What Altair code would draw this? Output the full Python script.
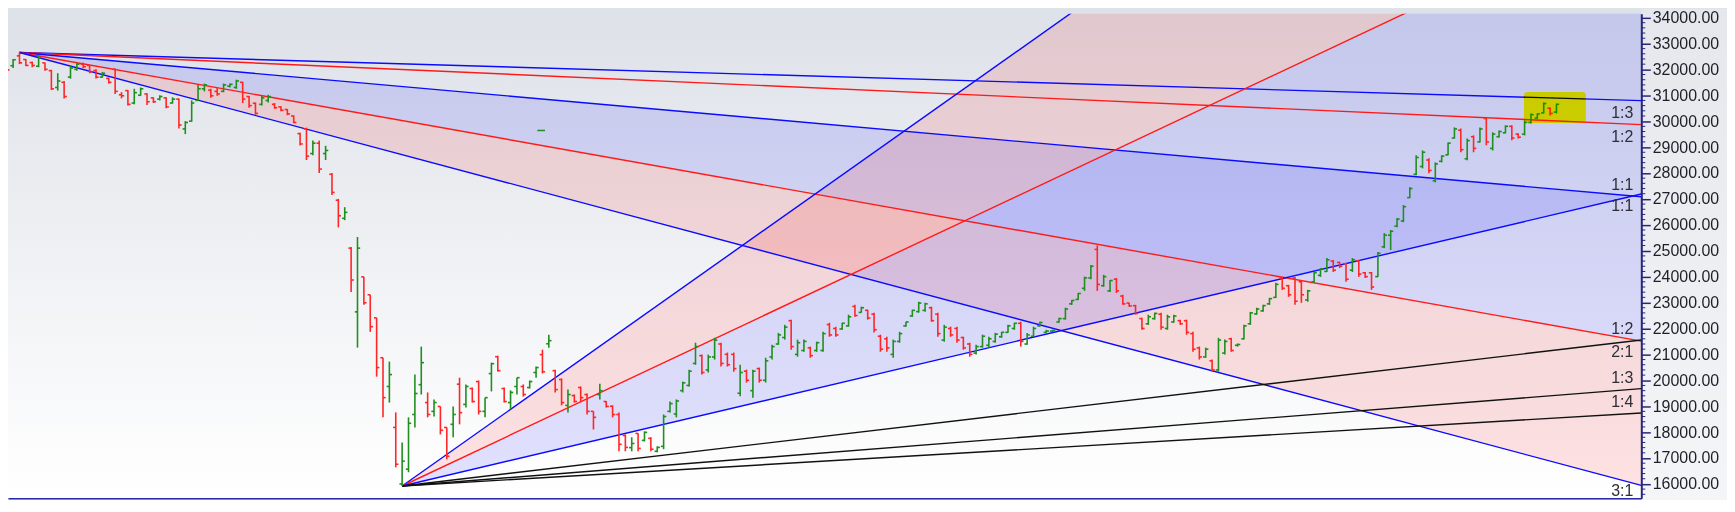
import altair as alt
import pandas as pd

# ---------------- OHLC data (daily bars) ----------------
opens = [
    32270, 32140, 32520, 32380, 32260, 32120, 32250, 31950, 31300, 31500,
    31700, 32000, 32200, 32150, 31950, 31700, 31650, 32000, 31020, 31180,
    30700, 31000, 31050, 30900, 30850, 30900, 30700, 30850, 29700, 30000,
    30800, 31250, 31200, 31150, 31150, 31350, 31300, 31500, 30950, 30690,
    30650, 30800, 30650, 30550, 30450, 30200, 29520, 29700, 28750, 29150,
    28750, 27950, 26950, 26250, 25100, 22640, 23990, 23300, 22410, 20870,
    19760, 18180, 16000, 16570, 18680, 19830, 19140, 18800, 18990, 18180,
    18300, 19850, 19070, 19680, 19950, 18800, 20260, 20910, 19680, 19140,
    19760, 19760, 19720, 20300, 20990, 21410, 20370, 20030, 19030, 19410,
    19720, 19450, 18800, 19450, 19180, 19000, 18680, 17870, 17400, 17950,
    17680, 17760, 17260, 17450, 18800, 18700, 19600, 19800, 20650, 20950,
    20400, 20900, 21400, 21000, 21000, 19500, 20350, 19600, 20450, 20000,
    20900, 21400, 21650, 22300, 21000, 21150, 21250, 21150, 21150, 22150,
    22000, 21980, 22100, 22850, 22620, 22700, 22550, 21700, 21600, 21000,
    21500, 22100, 22480, 22650, 22700, 22800, 22550, 21550, 22000, 22000,
    21650, 21400, 21050, 21300, 21350, 21500, 21680, 21850, 22000, 22200,
    21400, 21700, 22100, 21850, 21900, 22250, 22380, 22950, 23120, 23550,
    23950, 25050, 23650, 23450, 23900, 23250, 22980, 22880, 22380, 22180,
    22380, 22550, 22000, 22250, 22300, 22300, 21800, 21250, 20900, 20750,
    20400, 21050, 21600, 21350, 21600, 22180, 22560, 22680, 22950, 23200,
    23950, 23650, 23950, 23800, 23100, 23800, 24050, 24200, 24600, 24550,
    24500, 24250, 24600, 24150, 24150, 24000, 25150, 25600, 25950, 26150,
    27050, 27950, 28250, 28500, 27700, 28450, 28700, 29350, 29650, 28550,
    29400, 29200, 30100, 28950, 29400, 29550, 29800, 29500, 29500, 29950,
    30120, 30320, 30500, 30350,
]
highs = [
    32300, 32400, 32650, 32400, 32300, 32520, 32260, 31980, 31850, 31550,
    32140, 32250, 32260, 32150, 32000, 31900, 31680, 32030, 31120, 31200,
    31250, 31300, 31080, 30920, 31000, 30920, 30920, 30870, 30000, 30800,
    31400, 31450, 31250, 31300, 31450, 31450, 31600, 31520, 30970, 30720,
    30990, 31020, 30700, 30580, 30470, 30220, 29550, 29750, 29250, 29250,
    29050, 28000, 27000, 26680, 25140, 25530, 24000, 23300, 22410, 20870,
    20720, 18760, 17600, 18570, 20220, 21300, 19530, 19260, 18990, 18180,
    18990, 20100, 19840, 19720, 19990, 19330, 20680, 20950, 19720, 19610,
    20100, 19840, 19990, 20530, 21180, 21760, 20410, 20070, 19640, 19450,
    19760, 19490, 18800, 19870, 19200, 19030, 18760, 17910, 17800, 17960,
    18030, 17800, 17450, 18680, 19180, 19260, 19950, 20410, 21450, 20990,
    20990, 21640, 21450, 21070, 21070, 20600, 20410, 20410, 20490, 20870,
    21370, 21830, 22140, 22340, 21570, 21570, 21300, 21490, 21870, 22220,
    22070, 22220, 22530, 22910, 22840, 22720, 22610, 21760, 21680, 21570,
    21870, 22260, 22720, 23030, 22990, 22840, 22610, 22140, 22070, 22070,
    21680, 21450, 21370, 21760, 21680, 21830, 21870, 22140, 22220, 22260,
    21820, 22070, 22260, 21950, 21950, 22410, 22800, 23100, 23370, 24000,
    24450, 25200, 24070, 23870, 23950, 23300, 22990, 22910, 22410, 22530,
    22610, 22610, 22530, 22530, 22340, 22340, 21870, 21300, 21260, 20800,
    21640, 21570, 21640, 21420, 22140, 22640, 22800, 22910, 23180, 23760,
    23990, 23680, 23990, 23870, 23490, 24180, 24330, 24720, 24640, 24570,
    24530, 24720, 24640, 24180, 24180, 24950, 25680, 25800, 26260, 26760,
    27450, 28680, 28870, 28570, 28410, 28680, 29180, 29760, 29720, 29330,
    29450, 29760, 30140, 29570, 29640, 29840, 29840, 29530, 30030, 30300,
    30300, 30720, 30530, 30680,
]
lows = [
    31950, 32050, 32200, 32130, 32080, 32080, 31950, 31200, 31180, 30870,
    31640, 31950, 32050, 31850, 31650, 31680, 31450, 31050, 30880, 30600,
    30650, 30980, 30620, 30700, 30800, 30500, 30680, 29720, 29500, 29980,
    30780, 31150, 30900, 30980, 31120, 31300, 31250, 30700, 30520, 30250,
    30600, 30720, 30480, 30380, 30230, 29920, 29060, 28500, 28680, 28000,
    28500, 27150, 25900, 26180, 23410, 21260, 22910, 21870, 20140, 18570,
    19140, 16640, 15920, 16450, 18180, 19450, 18570, 18600, 17910, 16950,
    17800, 18300, 18950, 19140, 18680, 18570, 19570, 20340, 19140, 18870,
    19450, 19370, 19680, 20100, 20260, 21260, 19530, 19030, 18760, 19140,
    19180, 18680, 18100, 19260, 18950, 18570, 17260, 17260, 17260, 17260,
    17640, 17260, 17220, 17340, 18760, 18570, 19530, 19760, 20600, 20220,
    20300, 20800, 20530, 20530, 20330, 19380, 19910, 19330, 19910, 19910,
    20800, 21370, 21570, 21180, 20910, 21100, 20870, 21100, 21100, 21680,
    21680, 21950, 22070, 22450, 22610, 22340, 21840, 21100, 21100, 20870,
    21450, 22070, 22450, 22610, 22640, 22260, 21680, 21490, 21680, 21450,
    21180, 20910, 20990, 21260, 21260, 21450, 21640, 21830, 21950, 21300,
    21370, 21680, 22070, 21830, 21870, 22220, 22340, 22910, 23100, 23450,
    23900, 23450, 23610, 23410, 23370, 22910, 22840, 22530, 21950, 22140,
    22340, 21950, 21950, 22220, 22140, 21760, 21100, 20800, 20870, 20330,
    20330, 20990, 21100, 21300, 21570, 22140, 22530, 22640, 22910, 23180,
    23490, 23220, 22910, 22990, 23030, 23760, 23990, 24180, 24180, 24330,
    23800, 24180, 23990, 23950, 23490, 23990, 25100, 25030, 25910, 26100,
    27030, 27910, 28180, 27990, 27640, 28410, 28680, 29330, 28800, 28490,
    28800, 29180, 29070, 28870, 29370, 29530, 29260, 29330, 29450, 29910,
    30100, 30300, 30220, 30300,
]
closes = [
    31980, 32370, 32250, 32150, 32150, 32450, 32000, 31250, 31550, 30950,
    32050, 32200, 32100, 31900, 31700, 31850, 31500, 31150, 30980, 30650,
    31100, 31250, 30750, 30750, 30950, 30550, 30850, 29850, 29950, 30700,
    31250, 31400, 30980, 31050, 31400, 31420, 31550, 30850, 30600, 30300,
    30900, 30950, 30520, 30420, 30280, 29950, 29120, 28650, 29150, 28150,
    28870, 27250, 26350, 26480, 23870, 25100, 22990, 22070, 20490, 19330,
    20220, 16760, 16880, 18340, 19490, 20680, 18680, 19140, 18070, 17070,
    18680, 18750, 19760, 19180, 18800, 19330, 20640, 20370, 19180, 19530,
    20100, 19450, 19950, 20490, 20330, 21530, 19640, 19140, 19450, 19180,
    19330, 18800, 18570, 19600, 18990, 18680, 17530, 17410, 17560, 17370,
    17990, 17340, 17410, 18600, 19100, 19200, 19900, 20350, 21300, 20300,
    20900, 21550, 20650, 20600, 20450, 20300, 20000, 20350, 20000, 20750,
    21300, 21750, 22050, 21300, 21450, 21500, 20950, 21450, 21800, 21750,
    21750, 22200, 22450, 22500, 22800, 22400, 21950, 21200, 21250, 21500,
    21800, 22250, 22700, 22980, 22950, 22300, 21800, 22050, 21750, 21550,
    21250, 21000, 21300, 21700, 21600, 21780, 21850, 22100, 22200, 21500,
    21750, 22000, 22230, 21900, 21920, 22380, 22750, 23080, 23350, 23950,
    24400, 23700, 24000, 23850, 23450, 22950, 22870, 22580, 22000, 22450,
    22580, 22050, 22450, 22480, 22180, 21850, 21200, 20900, 21200, 20400,
    21550, 21500, 21150, 21380, 22100, 22600, 22750, 22880, 23150, 23700,
    23550, 23300, 23050, 23300, 23450, 24150, 24300, 24650, 24250, 24400,
    23900, 24650, 24100, 24000, 23600, 24900, 25600, 25750, 26220, 26700,
    27400, 28600, 28800, 28100, 28350, 28650, 29150, 29700, 28900, 29250,
    28950, 29700, 29200, 29500, 29600, 29800, 29350, 29380, 29950, 30250,
    30280, 30680, 30300, 30650,
]

# ---------------- Gann fans ----------------
top_origin = [2, 32650]          # bar index, price
top_unit = -21.9                 # price per bar of the 1:1 line
top_ratios = [1 / 3, 1 / 2, 1, 2, 3]
top_colors = ["#0a0aff", "#ff1a1a", "#0a0aff", "#ff1a1a", "#0a0aff"]
top_labels = ["1:3", "1:2", "1:1", "1:2", "3:1"]
top_label_dy = [12, 12, -12, -12, 6]
top_fills = [(2, 3, "#0000ff"), (3, 4, "#ff0000")]

bot_origin = [62, 15920]
bot_unit = 58.0
bot_ratios = [3, 2, 1, 1 / 2, 1 / 3, 1 / 4]
bot_colors = ["#0a0aff", "#ff1a1a", "#0a0aff", "#111111", "#111111", "#111111"]
bot_labels = ["", "", "1:1", "2:1", "1:3", "1:4"]
bot_label_dy = [0, 0, 12, 12, -11, -11]
bot_fills = [(0, 1, "#ff0000"), (1, 2, "#0000ff")]

# highlight (yellow marker) : bar index range and price range
highlight = [237.9, 247.6, 31130, 29930]
# small stray green dash on the chart
stray = [83.2, 84.4, 29640]

# axis ticks
major_ticks = list(range(16000, 34001, 1000))
minor_ticks = [v for v in range(15600, 34101, 200) if v % 1000 != 0]

# ---------------- layout ----------------
W, H = 1639, 486
TOP = 5
XDOM = [0.2, 256.3]
YDOM = [15451, 34142]
X_END = XDOM[1]

xs = alt.Scale(domain=XDOM, nice=False, zero=False)
ys = alt.Scale(domain=YDOM, nice=False, zero=False)
xaxis = alt.Axis(orient="bottom", labels=False, ticks=False, grid=False, title=None,
                 domainColor="#2a2aa8", domainWidth=1.5, zindex=1)
yaxis = alt.Axis(orient="right", values=major_ticks, format=".2f", tickSize=9,
                 tickColor="#26267a", tickWidth=1.5, domainColor="#26267a", domainWidth=2,
                 labelFont="Liberation Sans", labelFontSize=16, labelColor="#1e1e28",
                 labelPadding=2, grid=False, title=None, labelOverlap=False, zindex=1)


def X(f):
    return alt.X(f, type="quantitative", scale=xs, axis=xaxis)


def Y(f):
    return alt.Y(f, type="quantitative", scale=ys, axis=yaxis)


# ---------------- dataframes ----------------
n = len(closes)
bars = pd.DataFrame({"i": list(range(n)), "o": opens, "h": highs, "l": lows, "c": closes})
bars["dir"] = ["up" if c >= o else "down" for o, c in zip(opens, closes)]
bars["io"] = bars["i"] - 0.42
bars["ic"] = bars["i"] + 0.42
bar_color = alt.Color("dir:N", scale=alt.Scale(domain=["up", "down"], range=["#1f8f1f", "#ff2626"]),
                      legend=None)


def fan_val(origin, unit, ratio, x):
    return origin[1] + unit * ratio * (x - origin[0])


line_rows, fill_rows, lab_rows = [], [], []
for name, origin, unit, ratios, colors, labels, dys, fills in [
    ("t", top_origin, top_unit, top_ratios, top_colors, top_labels, top_label_dy, top_fills),
    ("b", bot_origin, bot_unit, bot_ratios, bot_colors, bot_labels, bot_label_dy, bot_fills),
]:
    for k, r in enumerate(ratios):
        lid = f"{name}{k}"
        line_rows.append({"id": lid, "x": origin[0], "p": origin[1], "col": colors[k]})
        pend = fan_val(origin, unit, r, X_END)
        line_rows.append({"id": lid, "x": X_END, "p": pend, "col": colors[k]})
        if labels[k]:
            lab_rows.append({"t": labels[k], "p": pend, "dy": dys[k]})
    for a, b, col in fills:
        rid = f"{name}f{a}{b}"
        fill_rows.append({"id": rid, "x": origin[0], "p": origin[1], "p2": origin[1], "col": col})
        fill_rows.append({"id": rid, "x": X_END, "p": fan_val(origin, unit, ratios[a], X_END),
                          "p2": fan_val(origin, unit, ratios[b], X_END), "col": col})

lines_df = pd.DataFrame(line_rows)
fills_df = pd.DataFrame(fill_rows)
labs_df = pd.DataFrame(lab_rows)

one = pd.DataFrame({"a": [0]})

# ---------------- layers ----------------
bg = alt.Chart(one).mark_rect(
    color=alt.LinearGradient(gradient="linear", x1=0, x2=0, y1=0, y2=1, stops=[
        alt.GradientStop(color="#dde1e8", offset=0),
        alt.GradientStop(color="#f1f2f5", offset=0.55),
        alt.GradientStop(color="#ffffff", offset=1)])
).encode(x=alt.value(0), x2=alt.value(W), y=alt.value(-TOP), y2=alt.value(H))

axis_bg = alt.Chart(one).mark_rect(
    color=alt.LinearGradient(gradient="linear", x1=0, x2=0, y1=0, y2=1, stops=[
        alt.GradientStop(color="#e5e7ec", offset=0),
        alt.GradientStop(color="#f4f5f7", offset=1)])
).encode(x=alt.value(W), x2=alt.value(W + 90), y=alt.value(-TOP), y2=alt.value(H + 4))

fill_layer = alt.Chart(fills_df).mark_area(clip=True, opacity=0.115).encode(
    x=X("x"), y=Y("p"), y2=alt.Y2("p2"),
    color=alt.Color("col:N", scale=None), detail="id:N")

line_layer = alt.Chart(lines_df).mark_line(clip=True, strokeWidth=1.4).encode(
    x=X("x"), y=Y("p"), color=alt.Color("col:N", scale=None), detail="id:N")

hl_rule = alt.Chart(bars).mark_rule(strokeWidth=1.6).encode(
    x=X("i"), y=Y("l"), y2=alt.Y2("h"), color=bar_color)
open_rule = alt.Chart(bars).mark_rule(strokeWidth=1.6).encode(
    x=X("io"), x2=alt.X2("i"), y=Y("o"), color=bar_color)
close_rule = alt.Chart(bars).mark_rule(strokeWidth=1.6).encode(
    x=X("i"), x2=alt.X2("ic"), y=Y("c"), color=bar_color)

stray_df = pd.DataFrame({"x1": [stray[0]], "x2": [stray[1]], "p": [stray[2]]})
stray_layer = alt.Chart(stray_df).mark_rule(strokeWidth=1.5, color="#1f8f1f").encode(
    x=X("x1"), x2=alt.X2("x2"), y=Y("p"))

hl_df = pd.DataFrame({"x1": [highlight[0]], "x2": [highlight[1]],
                      "p1": [highlight[2]], "p2": [highlight[3]]})
hl_layer = alt.Chart(hl_df).mark_rect(color="#ffff00", blend="multiply", cornerRadius=3).encode(
    x=X("x1"), x2=alt.X2("x2"), y=Y("p1"), y2=alt.Y2("p2"))

label_layers = []
for dy in sorted(set(labs_df["dy"])):
    label_layers.append(
        alt.Chart(labs_df[labs_df["dy"] == dy]).mark_text(
            align="right", baseline="middle", dy=int(dy), font="Liberation Sans",
            fontSize=16, color="#2e2e36"
        ).encode(x=alt.value(W - 8), y=Y("p"), text="t:N")
    )

minor_df = pd.DataFrame({"p": minor_ticks})
minor_layer = alt.Chart(minor_df).mark_rule(color="#26267a", strokeWidth=1).encode(
    y=Y("p"), x=alt.value(W), x2=alt.value(W + 4))

chart = alt.layer(
    bg, axis_bg, fill_layer, line_layer, hl_rule, open_rule, close_rule, stray_layer,
    hl_layer, *label_layers, minor_layer
).properties(
    width=W, height=H,
    autosize=alt.AutoSizeParams(type="none"),
    padding={"left": 0, "top": TOP, "right": 86, "bottom": 1},
).configure(background="#dfe2e9").configure_view(strokeWidth=0)

chart.save("out.html", embed_options={"renderer": "svg", "actions": False})
